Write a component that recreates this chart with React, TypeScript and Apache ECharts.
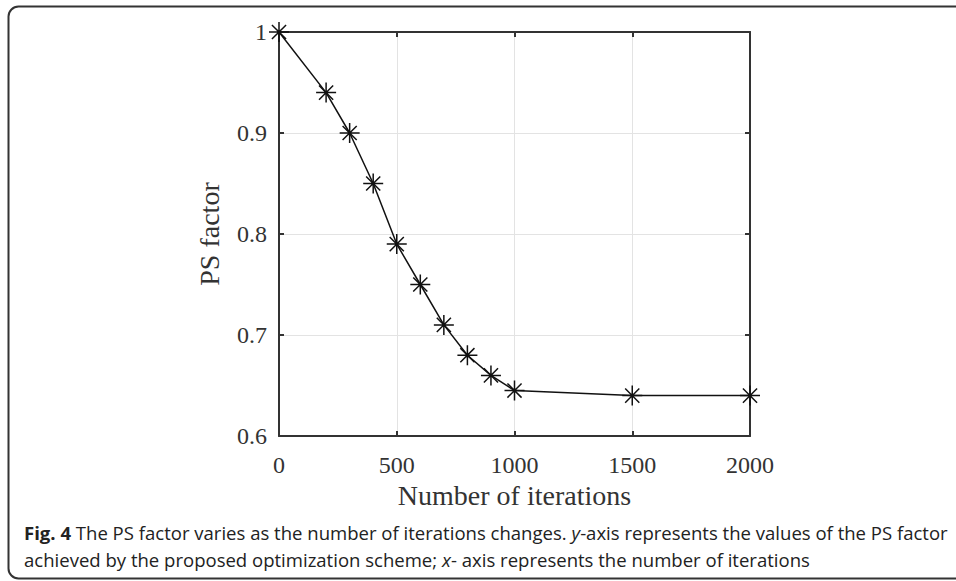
import React, { useEffect, useRef } from "react";
import * as echarts from "echarts";

const iterations = [0, 200, 300, 400, 500, 600, 700, 800, 900, 1000, 1500, 2000];
const psFactor = [1.0, 0.94, 0.9, 0.85, 0.79, 0.75, 0.71, 0.68, 0.66, 0.645, 0.64, 0.64];

const xTicks = { min: 0, max: 2000, interval: 500 };
const yTicks = { min: 0.6, max: 1, interval: 0.1 };

const xName = "Number of iterations";
const yName = "PS factor";
const captionBold = "Fig. 4";
const captionLine1a = " The PS factor varies as the number of iterations changes. ";
const captionLine1b = "-axis represents the values of the PS factor";
const captionLine2a = "achieved by the proposed optimization scheme; ";
const captionLine2b = "- axis represents the number of iterations";

const SERIF = "'Liberation Serif', 'Times New Roman', serif";
const SANS = "'Open Sans', 'Noto Sans', sans-serif";
const STAR = "path://M0,-10L0,10M-10,0L10,0M-7.07,-7.07L7.07,7.07M-7.07,7.07L7.07,-7.07";

function measure(font: string, text: string): number {
  const c = document.createElement("canvas").getContext("2d");
  if (!c) return text.length * 9;
  c.font = font;
  return c.measureText(text).width;
}

export default function App() {
  const ref = useRef<HTMLDivElement>(null);
  useEffect(() => {
    document.body.style.margin = "0";
    if (!ref.current) return;
    const chart = echarts.init(ref.current, undefined, { renderer: "svg" });
    const fs = 18;
    const w1 =
      measure(`bold ${fs}px ${SANS}`, captionBold) +
      measure(`${fs}px ${SANS}`, captionLine1a) +
      measure(`italic ${fs}px ${SANS}`, "y") +
      measure(`${fs}px ${SANS}`, captionLine1b);
    const sx = 924 / w1;
    const axisCommon = {
      axisLine: { show: true, onZero: false, lineStyle: { color: "#333", width: 2 } },
      axisTick: { show: true, inside: true, length: 5, lineStyle: { color: "#333", width: 2 } },
    };
    chart.setOption({
      animation: false,
      backgroundColor: "#fff",
      grid: { left: 279, right: 206, top: 32, bottom: 145, containLabel: false },
      xAxis: [
        {
          type: "value",
          ...xTicks,
          position: "bottom",
          ...axisCommon,
          axisLabel: {
            fontFamily: SERIF,
            fontSize: 24,
            color: "#333",
            margin: 17,
            formatter: (v: number) => String(v),
          },
          splitLine: { show: true, lineStyle: { color: "#e3e3e3", width: 1 } },
          name: xName,
          nameLocation: "middle",
          nameGap: 42,
          nameTextStyle: { fontFamily: SERIF, fontSize: 28, color: "#333" },
        },
        {
          type: "value",
          ...xTicks,
          position: "top",
          ...axisCommon,
          axisLabel: { show: false },
          splitLine: { show: false },
        },
      ],
      yAxis: [
        {
          type: "value",
          ...yTicks,
          position: "left",
          ...axisCommon,
          axisLabel: { fontFamily: SERIF, fontSize: 24, color: "#333", margin: 12 },
          splitLine: { show: true, lineStyle: { color: "#e3e3e3", width: 1 } },
          name: yName,
          nameLocation: "middle",
          nameGap: 56,
          nameTextStyle: { fontFamily: SERIF, fontSize: 28, color: "#333" },
        },
        {
          type: "value",
          ...yTicks,
          position: "right",
          ...axisCommon,
          axisLabel: { show: false },
          splitLine: { show: false },
        },
      ],
      series: [
        {
          type: "line",
          data: iterations.map((x, i) => [x, psFactor[i]]),
          clip: false,
          symbol: STAR,
          symbolSize: 20,
          showAllSymbol: true,
          lineStyle: { color: "#111", width: 1.5 },
          itemStyle: { color: "rgba(0,0,0,0)", borderColor: "#111", borderWidth: 1.5 },
          z: 5,
        },
      ],
      graphic: [
        {
          type: "rect",
          shape: { x: 8.5, y: 6.5, width: 1000, height: 572, r: 10 },
          style: { fill: "none", stroke: "#333", lineWidth: 2 },
          silent: true,
        },
        {
          type: "text",
          x: 24,
          y: 533,
          scaleX: sx,
          style: {
            text: `{b|${captionBold}}{r|${captionLine1a}}{i|y}{r|${captionLine1b}}`,
            verticalAlign: "middle",
            rich: {
              b: { fontFamily: SANS, fontSize: fs, fontWeight: "bold", fill: "#222" },
              r: { fontFamily: SANS, fontSize: fs, fill: "#222" },
              i: { fontFamily: SANS, fontSize: fs, fontStyle: "italic", fill: "#222" },
            },
          },
        },
        {
          type: "text",
          x: 24,
          y: 560,
          scaleX: sx,
          style: {
            text: `{r|${captionLine2a}}{i|x}{r|${captionLine2b}}`,
            verticalAlign: "middle",
            rich: {
              r: { fontFamily: SANS, fontSize: fs, fill: "#222" },
              i: { fontFamily: SANS, fontSize: fs, fontStyle: "italic", fill: "#222" },
            },
          },
        },
      ],
    });
    return () => chart.dispose();
  }, []);
  return <div ref={ref} style={{ width: 956, height: 581 }} />;
}
